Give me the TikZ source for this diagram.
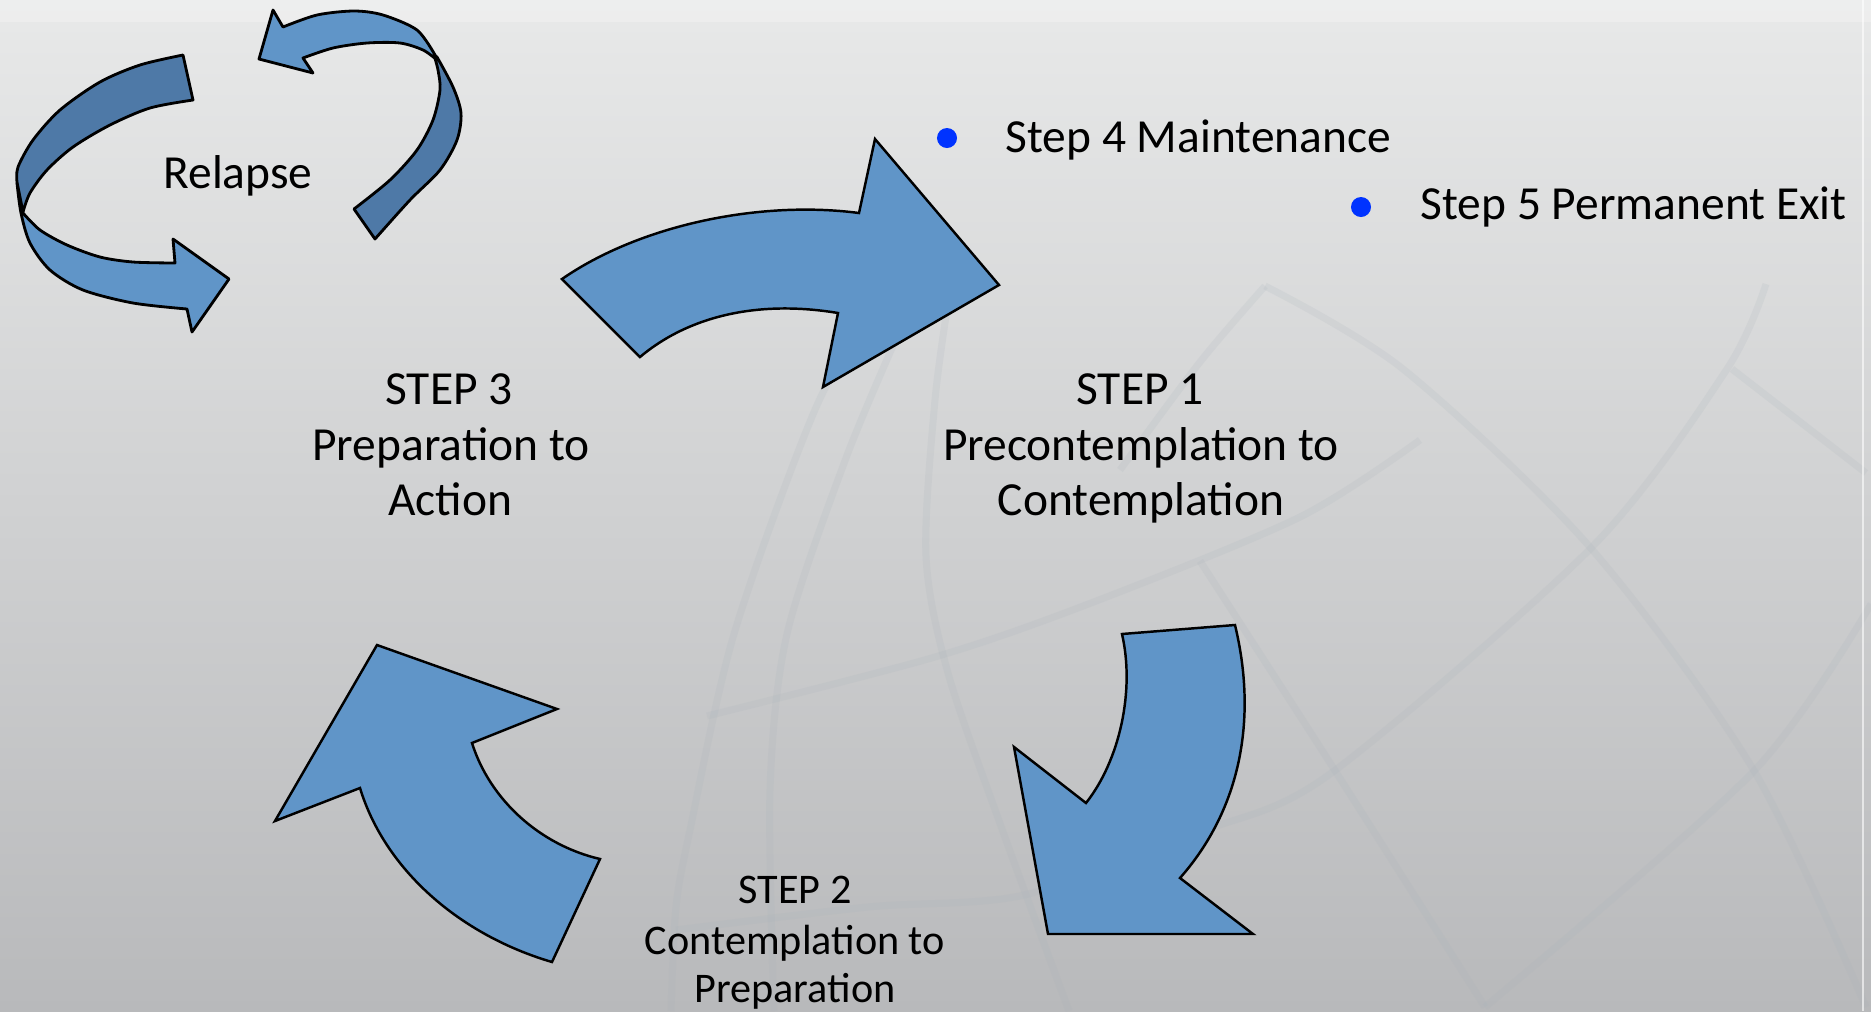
\documentclass[tikz,border=0pt]{standalone}
\usepackage{fontspec}
\setmainfont{Carlito}
\definecolor{bgtop}{RGB}{232,233,233}
\definecolor{bgmid}{RGB}{208,208,211}
\definecolor{bgbot}{RGB}{184,185,187}
\definecolor{globeline}{RGB}{168,178,186}
\definecolor{arrowfill}{RGB}{96,149,200}
\definecolor{arrowdark}{RGB}{78,121,167}
\definecolor{bulletblue}{RGB}{0,51,255}
\begin{document}
\begin{tikzpicture}[x=0.01cm,y=-0.01cm,
  bigarrow/.style={fill=arrowfill,draw=black,line width=0.7pt,line join=miter},
  frontband/.style={fill=arrowfill,draw=black,line width=0.8pt,line join=round},
  backband/.style={fill=arrowdark,draw=black,line width=0.8pt,line join=round},
  lbl/.style={inner sep=0pt,anchor=base,font=\fontsize{13.5}{16}\selectfont},
  smalllbl/.style={lbl,font=\fontsize{12}{14}\selectfont},
  bullet/.style={circle,fill=bulletblue,inner sep=0pt,minimum size=2mm},
  globe/.style={draw=globeline,opacity=0.16,line width=2pt}]
\useasboundingbox (0,0) rectangle (1871,1011);

% background
\shade[top color=bgtop,middle color=bgmid,bottom color=bgbot] (0,0) rectangle (1871,1011);
\fill[white,opacity=0.25] (0,0) rectangle (1871,22);

% faint globe in the background
\draw[globe] plot[smooth] coordinates {(880,290) (814,412) (734,634) (690,830) (676,907) (671,1011)};
\draw[globe] plot[smooth] coordinates {(900,330) (846,458) (787,634) (770,790) (774,1011)};
\draw[globe] plot[smooth] coordinates {(950,290) (935,400) (926,556) (948,673) (1002,829) (1069,1011)};
\draw[globe] plot[smooth] coordinates {(1265,286) (1403,369) (1589,546) (1753,769) (1866,1007)};
\draw[globe] plot[smooth] coordinates {(1766,284) (1727,369) (1593,546) (1330,774) (1200,832) (1024,895) (868,907) (676,930)};
\draw[globe] plot[smooth] coordinates {(1200,561) (1334,769) (1485,1007)};
\draw[globe] plot[smooth] coordinates {(1871,604) (1753,772) (1485,1007)};
\draw[globe] plot[smooth] coordinates {(707,716) (935,657) (1091,603) (1300,517) (1420,440)};
\draw[globe] plot[smooth] coordinates {(1265,286) (1200,362) (1120,470)};
\draw[globe] plot[smooth] coordinates {(1732,369) (1866,473)};

% slide edge
\draw[white,opacity=0.6,line width=0.4pt] (1863,0) -- (1863,1011);

% relapse loop, left ribbon (front face, then back face)
\filldraw[frontband] plot[smooth] coordinates {(17,183) (21,213) (30,243) (50,270) (83,290) (133,303) (187,309)}
  -- (192,332) -- (229,279) -- (173,239) -- (175,263)
  -- plot[smooth] coordinates {(175,263) (133,262) (100,257) (67,245) (40,230) (23,213)} -- cycle;
\filldraw[backband] plot[smooth] coordinates {(183,55) (140,65) (100,82) (60,110) (33,140) (18,167) (17,182)}
  -- (23,212)
  -- plot[smooth] coordinates {(23,212) (30,193) (47,170) (73,147) (110,125) (150,108) (193,100)} -- cycle;

% relapse loop, right ribbon
\filldraw[frontband] plot[smooth] coordinates {(435,55) (417,30) (383,15) (354,11) (317,15) (283,27)}
  -- (273,10) -- (259,59) -- (313,73) -- (303,58)
  -- plot[smooth] coordinates {(303,58) (333,48) (367,43) (400,43) (423,50) (437,60)} -- cycle;
\filldraw[backband] plot[smooth] coordinates {(434,55) (438,70) (440,90) (433,120) (417,150) (390,180) (354,209)}
  -- (375,239)
  -- plot[smooth] coordinates {(375,239) (410,200) (440,170) (457,140) (461,113) (453,87) (437,57)} -- cycle;

% cycle arrows
\filldraw[bigarrow] (562,279) .. controls (640,225) and (760,200) .. (859,213)
  -- (875,139) -- (999,285) -- (823,387) -- (838,313)
  .. controls (760,300) and (690,315) .. (640,357) -- cycle;

\filldraw[bigarrow] (1122,634) -- (1235,625)
  .. controls (1258,720) and (1240,810) .. (1180,878)
  -- (1253,934) -- (1048,934) -- (1014,747) -- (1086,803)
  .. controls (1120,760) and (1135,690) .. (1122,634) -- cycle;

\filldraw[bigarrow] (552,962) -- (600,859)
  .. controls (540,845) and (490,800) .. (472,743)
  -- (557,709) -- (377,645) -- (275,821) -- (360,788)
  .. controls (385,870) and (460,935) .. (552,962) -- cycle;

% labels
\node[lbl] (relapse) at (238,188) {Relapse};

\node[lbl] (s3a) at (449,404) {STEP 3};
\node[lbl] (s3b) at (451,460) {Preparation to};
\node[lbl] (s3c) at (450,515) {Action};

\node[lbl] (s1a) at (1140,404) {STEP 1};
\node[lbl] (s1b) at (1141,460) {Precontemplation to};
\node[lbl] (s1c) at (1141,515) {Contemplation};

\node[smalllbl] (s2a) at (795,903) {STEP 2};
\node[smalllbl] (s2b) at (795,954) {Contemplation to};
\node[smalllbl] (s2c) at (795,1002) {Preparation};

% bulleted list
\node[bullet] (b4) at (947,138) {};
\node[lbl,anchor=base west] (t4) at (1005,152) {Step 4 Maintenance};
\node[bullet] (b5) at (1361,207) {};
\node[lbl,anchor=base west] (t5) at (1420,219) {Step 5 Permanent Exit};
\end{tikzpicture}
\end{document}
